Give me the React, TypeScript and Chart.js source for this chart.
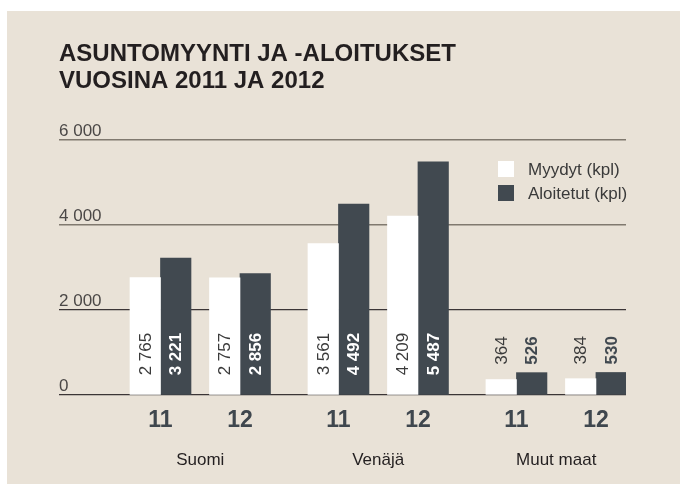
import React, { useEffect, useRef } from "react";
import { Chart, registerables, CategoryScale } from "chart.js";

Chart.register(...registerables);

// ---- data ----
const regions = ["Suomi", "Venäjä", "Muut maat"];
const years = ["11", "12"];
const seriesLabels = ["Myydyt (kpl)", "Aloitetut (kpl)"];
const myydyt = [2765, 2757, 3561, 4209, 364, 384];
const aloitetut = [3221, 2856, 4492, 5487, 526, 530];
const yTicks = [0, 2000, 4000, 6000];
const titleLines = ["ASUNTOMYYNTI JA -ALOITUKSET", "VUOSINA 2011 JA 2012"];

// ---- layout / style constants ----
const LEAD = 0.179;
const PAIR_STEP = 0.1402;
const REGION_STEP = 0.3139;
const FONT = '"Liberation Sans", Arial, Helvetica, sans-serif';
const BG = "#E9E2D7";
const DARK = "#414950";
const TEXT = "#231f20";

class PairedCategoryScale extends CategoryScale {
  static id = "pairedCategory";
  static defaults = {};
  getPixelForValue(value: any) {
    const v = typeof value === "number" ? value : (this as any).parse(value);
    if (v === null || v === undefined || isNaN(v)) return NaN;
    const n = years.length;
    const r = Math.floor(v / n);
    const j = v - r * n;
    return this.getPixelForDecimal(LEAD + r * REGION_STEP + j * PAIR_STEP);
  }
}
Chart.register(PairedCategoryScale as any);

const fmt = (n: number) => String(n).replace(/\B(?=(\d{3})+(?!\d))/g, " ");

const overlayPlugin = {
  id: "overlay",
  afterDatasetsDraw(chart: any) {
    const ctx = chart.ctx;
    const metas = [chart.getDatasetMeta(0), chart.getDatasetMeta(1)];
    const n = metas[0].data.length;
    for (let i = 0; i < n; i++) {
      const tops = metas.map((m: any) => m.data[i].y);
      const pairTop = Math.min(...tops);
      metas.forEach((m: any, di: number) => {
        const bar = m.data[i];
        const val = chart.data.datasets[di].data[i];
        const txt = fmt(val);
        ctx.save();
        ctx.font = `${di === 1 ? "bold " : ""}17px ${FONT}`;
        const w = ctx.measureText(txt).width;
        const h = bar.base - bar.y;
        let y0: number;
        let color: string;
        if (h > w + 30) {
          y0 = bar.base - 19;
          color = di === 1 ? "#ffffff" : "#3a3a3a";
        } else {
          y0 = pairTop - 8;
          color = di === 1 ? DARK : "#3a3a3a";
        }
        ctx.translate(bar.x + 1, y0);
        ctx.rotate(-Math.PI / 2);
        ctx.fillStyle = color;
        ctx.textAlign = "left";
        ctx.textBaseline = "middle";
        ctx.fillText(txt, 0, 0);
        ctx.restore();
      });
    }
  },
  afterDraw(chart: any) {
    const ctx = chart.ctx;
    const xs = chart.scales.x;
    const area = chart.chartArea;
    ctx.save();
    // region labels
    ctx.font = `17px ${FONT}`;
    ctx.fillStyle = TEXT;
    ctx.textAlign = "center";
    ctx.textBaseline = "middle";
    regions.forEach((name, r) => {
      const a = xs.getPixelForValue(r * years.length);
      const b = xs.getPixelForValue(r * years.length + years.length - 1);
      ctx.fillText(name, (a + b) / 2, area.bottom + 65);
    });
    // legend
    const lx = area.right - 128;
    const ly = area.top + 21;
    chart.data.datasets.forEach((ds: any, i: number) => {
      const y = ly + i * 24;
      ctx.fillStyle = ds.backgroundColor;
      ctx.fillRect(lx, y, 16, 16);
      ctx.fillStyle = "#3a3a3a";
      ctx.textAlign = "left";
      ctx.textBaseline = "middle";
      ctx.font = `17px ${FONT}`;
      ctx.fillText(ds.label, lx + 30, y + 9);
    });
    ctx.restore();
  },
};

export default function App() {
  const ref = useRef<HTMLCanvasElement | null>(null);
  useEffect(() => {
    if (!ref.current) return;
    const labels: string[] = [];
    regions.forEach(() => years.forEach((y) => labels.push(y)));
    const chart = new Chart(ref.current, {
      type: "bar",
      data: {
        labels,
        datasets: [
          { label: seriesLabels[0], data: myydyt, backgroundColor: "#ffffff", barThickness: 30.5 },
          { label: seriesLabels[1], data: aloitetut, backgroundColor: DARK, barThickness: 30.5 },
        ],
      },
      options: {
        animation: false,
        responsive: true,
        maintainAspectRatio: false,
        events: [],
        layout: { padding: { left: 52, right: 54, top: 30, bottom: 38 } },
        plugins: {
          legend: { display: false },
          tooltip: { enabled: false },
          title: {
            display: true,
            text: titleLines,
            align: "start",
            color: TEXT,
            font: { family: FONT, size: 24, weight: "bold", lineHeight: "27px" },
            padding: { top: 0, bottom: 45 },
          },
        },
        scales: {
          x: {
            type: "pairedCategory" as any,
            grid: { display: false, drawTicks: false },
            border: { display: false },
            ticks: {
              autoSkip: false,
              maxRotation: 0,
              padding: 11.7,
              color: "#3f474e",
              font: { family: FONT, size: 23, weight: "bold" },
            },
          },
          y: {
            min: 0,
            max: yTicks[yTicks.length - 1],
            afterBuildTicks: (scale: any) => {
              scale.ticks = yTicks.map((v) => ({ value: v }));
            },
            grid: {
              drawTicks: false,
              color: (c: any) => (c.tick && c.tick.value >= 4000 ? "#80796f" : "#3b3536"),
              lineWidth: (c: any) => (c.tick && c.tick.value >= 4000 ? 1.6 : 1.3),
            },
            border: { display: false },
            ticks: {
              mirror: true,
              padding: 0,
              labelOffset: -9,
              color: "#4b4847",
              font: { family: FONT, size: 17 },
              callback: (v: any) => fmt(Number(v)),
            },
          },
        },
      },
      plugins: [overlayPlugin],
    });
    return () => chart.destroy();
  }, []);
  return (
    <div style={{ position: "absolute", left: 7, top: 11, width: 673, height: 473, background: BG }}>
      <canvas ref={ref} />
    </div>
  );
}
